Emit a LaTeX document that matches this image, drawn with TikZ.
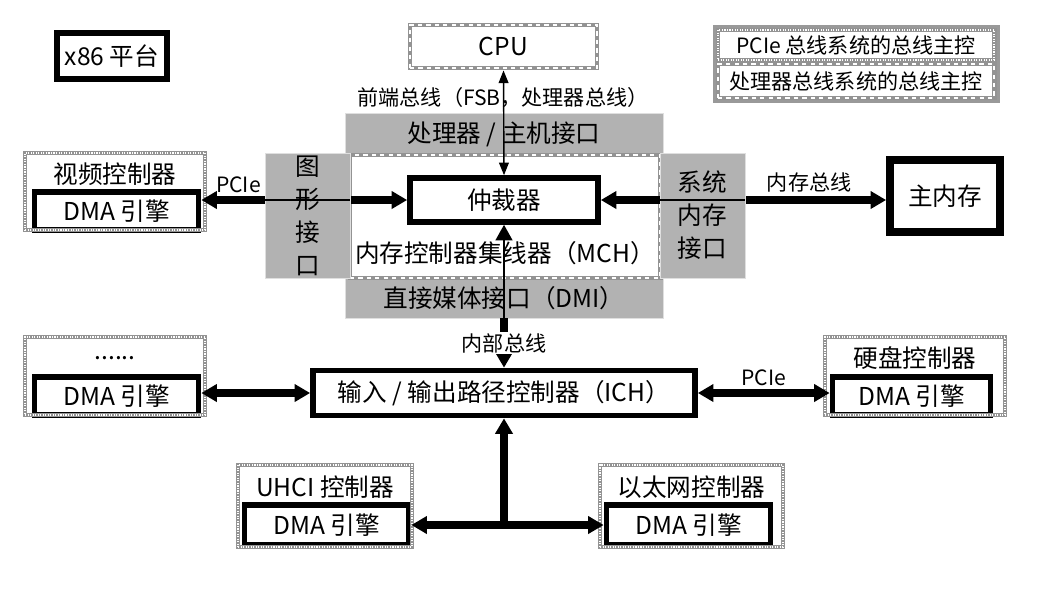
\documentclass[tikz,border=0pt]{standalone}
\usepackage{fontspec}
\setmainfont{Noto Sans CJK SC}
\usetikzlibrary{arrows.meta}
\begin{document}
\begin{tikzpicture}[x=0.025cm,y=-0.025cm,
		every node/.style={font=\fontsize{17.5}{20}\selectfont, inner sep=1pt},
		small/.style={font=\fontsize{15}{18}\selectfont},
		heavybox/.style={draw, line width=4pt, fill=white},
		dmabox/.style={draw, line width=4pt, fill=white, minimum width=4.1cm, minimum height=0.95cm},
		pciebox/.style={draw=gray!85, line width=3.5pt, postaction={draw=white, line width=0.8pt, densely dotted}},
		fsbbox/.style={draw=gray!85, line width=3.5pt, postaction={draw=white, line width=0.8pt, dashed}},
		ifarea/.style={fill=gray!60, draw=gray!25, line width=0.6pt},
		>={Triangle[length=11pt,width=12pt]},
		bus/.style={line width=5pt},
		thinbus/.style={line width=1pt, {Triangle[length=9pt,width=7pt]}-{Triangle[length=9pt,width=7pt]}}]
	\useasboundingbox (0,0) rectangle (1058,595);
	\node [fill=gray!80, minimum width=7.175cm, minimum height=1.95cm] (legend) at (856.5,64) {};
	\node [pciebox, fill=white, small, minimum width=6.9cm, minimum height=0.75cm] (lgpcie) at (856,45) {PCIe 总线系统的总线主控};
	\node [fsbbox, fill=white, small, minimum width=6.9cm, minimum height=0.85cm] (lgfsb) at (856,81) {处理器总线系统的总线主控};
	\node [heavybox, minimum width=2.75cm, minimum height=1.15cm] (x86) at (112,56) {x86 平台};
	\node [fsbbox, fill=white, minimum width=4.675cm, minimum height=1.075cm] (cpu) at (503.5,46.5) {CPU};
	\node [small] (fsblabel) at (503,98) {前端总线（FSB，处理器总线）};
	\node [ifarea, minimum width=7.95cm, minimum height=1.05cm] (hostif) at (504,134) {处理器 / 主机接口};
	\node [ifarea, minimum width=7.95cm, minimum height=1cm] (dmi) at (504,298) {直接媒体接口（DMI）};
	\node [fsbbox, fill=white, minimum width=7.75cm, minimum height=3.075cm] (mch) at (505,216.5) {};
	\node (mchtext) at (505,253) {内存控制器集线器（MCH）};
	\node [heavybox, minimum width=4.7cm, minimum height=1.1cm] (arb) at (504,200) {仲裁器};
	\node [heavybox, line width=5.5pt, minimum width=2.75cm, minimum height=1.8cm] (mem) at (945,196) {主内存};
	\node [heavybox, minimum width=9.55cm, minimum height=1.125cm] (ich) at (504,393) {输入 / 输出路径控制器（ICH）};
	\node [dmabox] (vdma) at (116.5,211) {DMA 引擎};
	\node (vtitle) at (115,174) {视频控制器};
	\node [pciebox, minimum width=4.5cm, minimum height=1.925cm] (video) at (115,191.5) {};
	\node [dmabox] (ddma) at (116.5,396) {DMA 引擎};
	\node (dtitle) at (115,358) {......};
	\node [pciebox, minimum width=4.5cm, minimum height=1.95cm] (dots) at (115,376) {};
	\node [dmabox, minimum width=3.95cm] (hdma) at (911.5,396) {DMA 引擎};
	\node (htitle) at (915,358) {硬盘控制器};
	\node [pciebox, minimum width=4.5cm, minimum height=1.95cm] (hdd) at (915,376) {};
	\node [dmabox, minimum height=1cm] (udma) at (326.5,525) {DMA 引擎};
	\node (utitle) at (325,487) {UHCI 控制器};
	\node [pciebox, minimum width=4.35cm, minimum height=2.05cm] (uhci) at (325,506) {};
	\node [dmabox, minimum height=1cm] (edma) at (688.5,525) {DMA 引擎};
	\node (etitle) at (691.5,487) {以太网控制器};
	\node [pciebox, minimum width=4.575cm, minimum height=2.05cm] (eth) at (691.5,506) {};
	\draw [thinbus] (cpu.south) to (arb.north);
	\draw [bus, <->] (arb.west) to node [pos=0.82, above=2pt, small] (pcie1) {PCIe} (arb.west -| vdma.east);
	\draw [bus, <->] (arb.east) to node [pos=0.73, above=2pt, small] (membus) {内存总线} (arb.east -| mem.west);
	\draw [bus, <->] (ich.west) to (ich.west -| ddma.east);
	\draw [bus, <->] (ich.east) to node [midway, above=2pt, small] (pcie2) {PCIe} (ich.east -| hdma.west);
	\draw [line width=1pt, <-] (arb.south) to (dmi.south);
	\draw [bus, ->] (dmi.south) to node [pos=0.5, fill=white, small] (intbus) {内部总线} (ich.north);
	\coordinate (split) at (ich.south |- udma.east);
	\draw [bus, <->] (udma.east) to (split) to (edma.west);
	\draw [bus, ->] (split) to (ich.south);
	\node [ifarea, align=center, font=\fontsize{17.5}{23.5}\selectfont, minimum width=2.125cm, minimum height=3.125cm] (gfxif) at (307.5,215.5) {图\\形\\接\\口};
	\node [ifarea, align=center, font=\fontsize{17.5}{23.5}\selectfont, minimum width=2.125cm, minimum height=3.125cm] (memif) at (702.5,215.5) {系统\\内存\\接口};
	\draw [line width=0.8pt] (gfxif.west |- arb.west) to (gfxif.east |- arb.west);
	\draw [line width=0.8pt] (memif.west |- arb.east) to (memif.east |- arb.east);
\end{tikzpicture}
\end{document}
